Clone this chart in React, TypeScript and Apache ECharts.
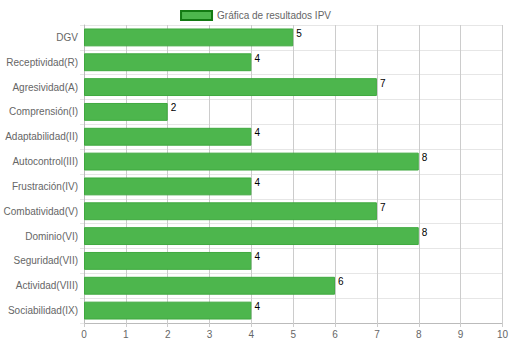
import React, { useEffect, useRef } from "react";
import * as echarts from "echarts";

const categories = [
  "DGV",
  "Receptividad(R)",
  "Agresividad(A)",
  "Comprensión(I)",
  "Adaptabilidad(II)",
  "Autocontrol(III)",
  "Frustración(IV)",
  "Combatividad(V)",
  "Dominio(VI)",
  "Seguridad(VII)",
  "Actividad(VIII)",
  "Sociabilidad(IX)",
];
const values = [5, 4, 7, 2, 4, 8, 4, 7, 8, 4, 6, 4];
const seriesName = "Gráfica de resultados IPV";

export default function App() {
  const ref = useRef<HTMLDivElement>(null);
  useEffect(() => {
    if (!ref.current) return;
    const chart = echarts.init(ref.current, undefined, { renderer: "svg" });
    chart.setOption({
      animation: false,
      textStyle: { fontFamily: "Liberation Sans, Arial, sans-serif" },
      legend: {
        top: 5,
        left: "center",
        icon: "rect",
        itemWidth: 31,
        itemHeight: 9,
        itemGap: 6,
        textStyle: { color: "#666", fontSize: 10 },
        itemStyle: { color: "#4db64d", borderColor: "#137a13", borderWidth: 2 },
        data: [seriesName],
      },
      grid: { left: 84, right: 8, top: 25, bottom: 21, containLabel: false },
      xAxis: {
        type: "value",
        min: 0,
        max: 10,
        interval: 1,
        axisLine: { show: true, lineStyle: { color: "#bbb" } },
        axisTick: { show: true, length: 4, lineStyle: { color: "#ccc" } },
        axisLabel: { color: "#666", fontSize: 10, margin: 6 },
        splitLine: { show: true, lineStyle: { color: "#ccc" } },
      },
      yAxis: {
        type: "category",
        inverse: true,
        data: categories,
        axisLine: { show: true, lineStyle: { color: "#bbb" } },
        axisTick: { show: true, length: 4, lineStyle: { color: "#e6e6e6" } },
        axisLabel: { color: "#666", fontSize: 10, margin: 6 },
        splitLine: { show: true, lineStyle: { color: "#e6e6e6" } },
      },
      series: [
        {
          name: seriesName,
          type: "bar",
          data: values,
          barWidth: "72%",
          itemStyle: {
            color: "#4db64d",
            borderColor: "#3fa93f",
            borderWidth: 1,
          },
          label: {
            show: true,
            position: ["100%", 0],
            distance: 0,
            offset: [3, 0],
            align: "left",
            verticalAlign: "top",
            color: "#000",
            fontSize: 10,
          },
        },
      ],
    });
    return () => chart.dispose();
  }, []);
  return (
    <div
      ref={ref}
      style={{ position: "absolute", left: 0, top: 0, width: 511, height: 344 }}
    />
  );
}
